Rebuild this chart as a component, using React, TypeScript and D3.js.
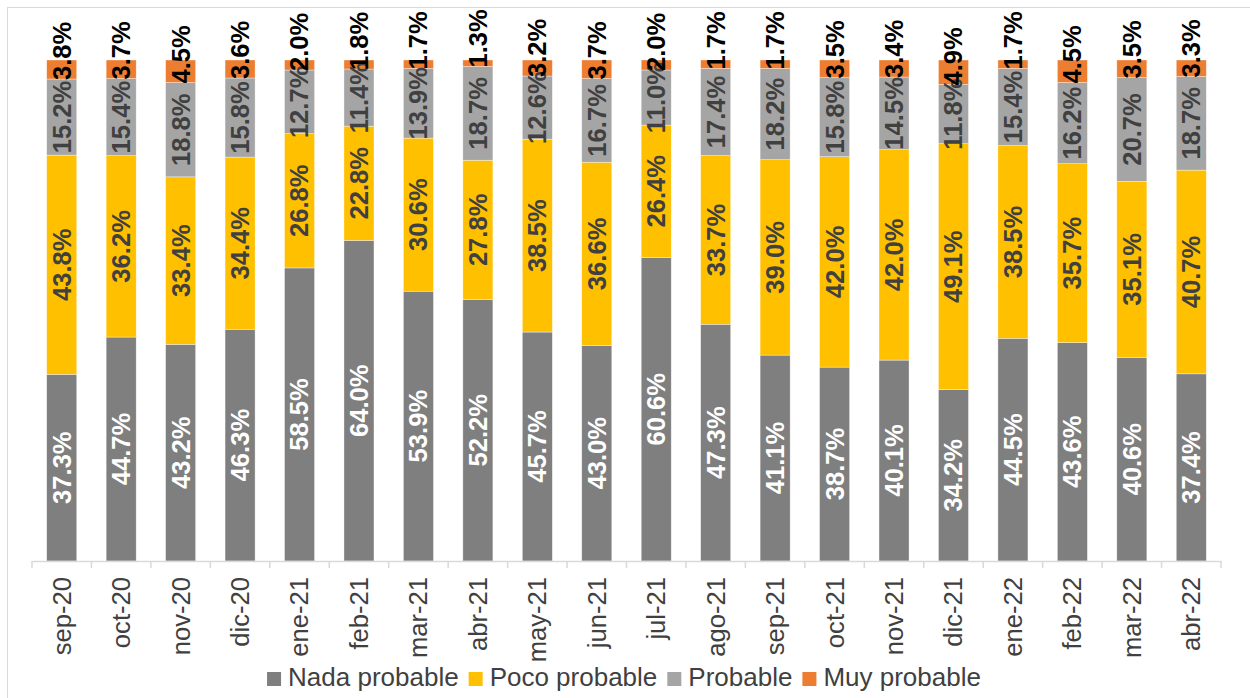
import React, { useEffect, useRef } from "react";
import * as d3 from "d3";

const months = [
  "sep-20", "oct-20", "nov-20", "dic-20", "ene-21", "feb-21", "mar-21", "abr-21", "may-21", "jun-21",
  "jul-21", "ago-21", "sep-21", "oct-21", "nov-21", "dic-21", "ene-22", "feb-22", "mar-22", "abr-22",
];
const nada = [37.3, 44.7, 43.2, 46.3, 58.5, 64.0, 53.9, 52.2, 45.7, 43.0, 60.6, 47.3, 41.1, 38.7, 40.1, 34.2, 44.5, 43.6, 40.6, 37.4];
const poco = [43.8, 36.2, 33.4, 34.4, 26.8, 22.8, 30.6, 27.8, 38.5, 36.6, 26.4, 33.7, 39.0, 42.0, 42.0, 49.1, 38.5, 35.7, 35.1, 40.7];
const probable = [15.2, 15.4, 18.8, 15.8, 12.7, 11.4, 13.9, 18.7, 12.6, 16.7, 11.0, 17.4, 18.2, 15.8, 14.5, 11.8, 15.4, 16.2, 20.7, 18.7];
const muy = [3.8, 3.7, 4.5, 3.6, 2.0, 1.8, 1.7, 1.3, 3.2, 3.7, 2.0, 1.7, 1.7, 3.5, 3.4, 4.9, 1.7, 4.5, 3.5, 3.3];

const seriesNames = ["Nada probable", "Poco probable", "Probable", "Muy probable"];
const seriesColors = ["#7f7f7f", "#ffc000", "#a5a5a5", "#ed7d31"];
const labelColors = ["#ffffff", "#404040", "#404040", "#000000"];

export default function App() {
  const ref = useRef<SVGSVGElement>(null);
  const width = 1250;
  const height = 698;
  const plot = { left: 32, right: 1221, top: 60, bottom: 561 };
  const font = "'Liberation Sans', Arial, sans-serif";
  const fs = 25.6;

  useEffect(() => {
    const svg = d3.select(ref.current);
    svg.selectAll("*").remove();

    const rows = months.map((m, i) => ({
      month: m,
      [seriesNames[0]]: nada[i],
      [seriesNames[1]]: poco[i],
      [seriesNames[2]]: probable[i],
      [seriesNames[3]]: muy[i],
    }));
    const stacked = d3.stack<any>().keys(seriesNames).offset(d3.stackOffsetExpand)(rows);

    const x = d3.scaleBand().domain(months).range([plot.left, plot.right]).paddingInner(0.495).paddingOuter(0.2475);
    const y = d3.scaleLinear().domain([0, 1]).range([plot.bottom, plot.top]);

    // chart border
    svg.append("rect")
      .attr("x", 7.5).attr("y", 7.5)
      .attr("width", 1300).attr("height", 760)
      .attr("fill", "#fff").attr("stroke", "#d9d9d9");

    // bars
    const g = svg.append("g");
    stacked.forEach((s, si) => {
      g.append("g")
        .selectAll("rect")
        .data(s)
        .join("rect")
        .attr("x", (d) => x(d.data.month)!)
        .attr("width", x.bandwidth())
        .attr("y", (d) => y(d[1]))
        .attr("height", (d) => y(d[0]) - y(d[1]))
        .attr("fill", seriesColors[si])
        .attr("stroke", "#ffffff")
        .attr("stroke-opacity", 0.6)
        .attr("stroke-width", 0.6);
    });

    // x axis
    const xAxis = d3.axisBottom(x).tickSize(0).tickFormat(() => "");
    const ax = svg.append("g").attr("transform", `translate(0,${plot.bottom})`).call(xAxis);
    ax.select(".domain").attr("stroke", "#d9d9d9").attr("stroke-width", 1.5);
    ax.selectAll(".sep")
      .data(d3.range(months.length + 1))
      .join("line")
      .attr("x1", (i) => plot.left + i * (plot.right - plot.left) / months.length)
      .attr("x2", (i) => plot.left + i * (plot.right - plot.left) / months.length)
      .attr("y1", 0).attr("y2", 7)
      .attr("stroke", "#d9d9d9").attr("stroke-width", 1.5);

    svg.append("g")
      .selectAll("text")
      .data(months)
      .join("text")
      .attr("transform", (m) => `translate(${x(m)! + x.bandwidth() / 2},${plot.bottom + 16}) rotate(-90)`)
      .attr("dy", "0.35em")
      .attr("text-anchor", "end")
      .attr("font-family", font)
      .attr("font-size", fs)
      .attr("fill", "#404040")
      .text((m) => m);

    // data labels
    stacked.forEach((s, si) => {
      svg.append("g")
        .selectAll("text")
        .data(s)
        .join("text")
        .attr("transform", (d) => {
          const cx = x(d.data.month)! + x.bandwidth() / 2;
          const cy = si === 3 ? y(d[0]) + 1 : (y(d[0]) + y(d[1])) / 2;
          return `translate(${cx},${cy}) rotate(-90)`;
        })
        .attr("dy", "0.35em")
        .attr("text-anchor", si === 3 ? "start" : "middle")
        .attr("font-family", font)
        .attr("font-weight", "bold")
        .attr("font-size", fs)
        .attr("fill", labelColors[si])
        .text((d) => `${(d.data as any)[seriesNames[si]].toFixed(1)}%`);
    });

    // legend
    const leg = svg.append("g");
    const items = leg.selectAll("g").data(seriesNames).join("g");
    items.append("rect")
      .attr("width", 14).attr("height", 14)
      .attr("y", -14)
      .attr("fill", (d, i) => seriesColors[i]);
    items.append("text")
      .attr("x", 21)
      .attr("font-family", font)
      .attr("font-size", 26)
      .attr("fill", "#404040")
      .text((d) => d);
    let cur = 0;
    items.each(function () {
      const t = d3.select(this).select("text").node() as SVGTextElement;
      d3.select(this).attr("data-x", cur);
      cur += 21 + t.getComputedTextLength() + 10;
    });
    const total = cur - 10;
    const start = 624 - total / 2;
    items.attr("transform", function () {
      return `translate(${start + +d3.select(this).attr("data-x")},${686})`;
    });
  }, []);

  return (
    <svg
      ref={ref}
      width={width}
      height={height}
      style={{ position: "absolute", left: 0, top: 0, background: "#fff" }}
    />
  );
}
